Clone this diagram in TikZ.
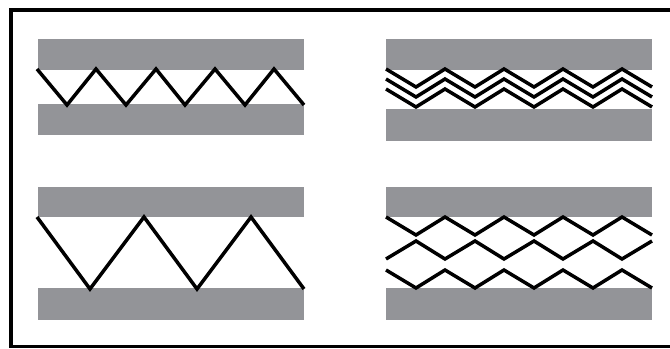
\documentclass[tikz,border=0pt]{standalone}
\usepackage{amssymb,amsmath}
\usepackage{tikz}
\definecolor{bargray}{RGB}{147,148,152}

\begin{document}
\begin{tikzpicture}[x=0.03cm, y=-0.03cm, line join=miter]
\useasboundingbox (0,0) rectangle (670,349);
\draw[line width=0.1cm] (672,10)--(11,10)--(11,346.5)--(672,346.5);

\fill[bargray] (38,39) rectangle (304,70);
\fill[bargray] (38,104) rectangle (304,135);
\fill[bargray] (386,39) rectangle (652,70);
\fill[bargray] (386,109) rectangle (652,141);
\fill[bargray] (38,187) rectangle (304,217);
\fill[bargray] (38,288) rectangle (304,320);
\fill[bargray] (386,187) rectangle (652,217);
\fill[bargray] (386,288) rectangle (652,320);

\draw[line width=0.105cm] (37,69)--(67,105)--(96,69)--(126,105)--(156,69)--(185,105)--(215,69)--(245,105)--(274,69)--(304,105);

\draw[line width=0.105cm] (386,69)--(416,87)--(445,69)--(475,87)--(504,69)--(534,87)--(563,69)--(593,87)--(622,69)--(652,87);
\draw[line width=0.105cm] (386,79)--(416,97)--(445,79)--(475,97)--(504,79)--(534,97)--(563,79)--(593,97)--(622,79)--(652,97);
\draw[line width=0.105cm] (386,89)--(416,107)--(445,89)--(475,107)--(504,89)--(534,107)--(563,89)--(593,107)--(622,89)--(652,107);

\draw[line width=0.105cm] (37,217)--(90,289)--(144,217)--(197,289)--(251,217)--(304,289);

\draw[line width=0.105cm] (386,217)--(416,235)--(445,217)--(475,235)--(504,217)--(534,235)--(563,217)--(593,235)--(622,217)--(652,235);
\draw[line width=0.105cm] (386,259)--(416,241)--(445,259)--(475,241)--(504,259)--(534,241)--(563,259)--(593,241)--(622,259)--(652,241);
\draw[line width=0.105cm] (386,270)--(416,288)--(445,270)--(475,288)--(504,270)--(534,288)--(563,270)--(593,288)--(622,270)--(652,288);
\end{tikzpicture}
\end{document}
